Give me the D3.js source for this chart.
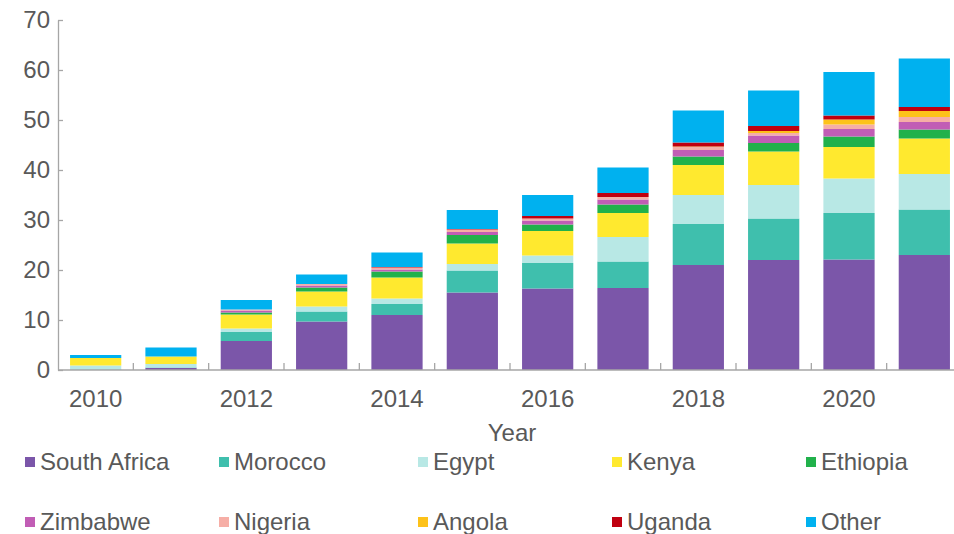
<!DOCTYPE html>
<html>
<head>
<meta charset="utf-8">
<script src="https://cdn.jsdelivr.net/npm/d3@7"></script>
<style>
  html, body { margin: 0; padding: 0; background: #fff; }
  svg { display: block; font-family: "Liberation Sans", Arial, sans-serif; }
</style>
</head>
<body>
<svg id="chart" width="954" height="534"></svg>
<script>
// Installed capacity by country, stacked per year
const years = [2010, 2011, 2012, 2013, 2014, 2015, 2016, 2017, 2018, 2019, 2020, 2021];
const yTicks = [0, 10, 20, 30, 40, 50, 60, 70];
const xLabels = [2010, 2012, 2014, 2016, 2018, 2020];

const southAfrica = [0.0, 0.4, 5.8, 9.7, 11.0, 15.5, 16.3, 16.4, 21.0, 22.0, 22.1, 23.0];
const morocco     = [0.1, 0.1, 1.8, 2.0, 2.2, 4.4, 5.1, 5.3, 8.2, 8.3, 9.3, 9.1];
const egypt       = [0.8, 0.7, 0.7, 1.0, 1.1, 1.3, 1.5, 4.9, 5.8, 6.7, 6.9, 7.1];
const kenya       = [1.5, 1.5, 2.8, 3.0, 4.2, 4.1, 4.9, 4.8, 6.0, 6.7, 6.3, 7.1];
const ethiopia    = [0.0, 0.0, 0.4, 0.8, 1.2, 1.7, 1.3, 1.7, 1.7, 1.7, 2.1, 1.8];
const zimbabwe    = [0.0, 0.0, 0.4, 0.4, 0.4, 0.6, 0.8, 1.0, 1.3, 1.5, 1.5, 1.5];
const nigeria     = [0.0, 0.0, 0.2, 0.3, 0.4, 0.5, 0.4, 0.5, 0.6, 0.5, 0.9, 1.0];
const angola      = [0.0, 0.0, 0.0, 0.0, 0.0, 0.0, 0.0, 0.0, 0.1, 0.4, 1.0, 1.2];
const uganda      = [0.0, 0.0, 0.0, 0.0, 0.1, 0.1, 0.5, 0.8, 0.8, 1.0, 0.8, 0.8];
const other       = [0.6, 1.8, 1.9, 1.9, 2.9, 3.8, 4.2, 5.1, 6.4, 7.1, 8.7, 9.7];

const seriesNames = ["South Africa", "Morocco", "Egypt", "Kenya", "Ethiopia",
                     "Zimbabwe", "Nigeria", "Angola", "Uganda", "Other"];
const seriesValues = [southAfrica, morocco, egypt, kenya, ethiopia,
                      zimbabwe, nigeria, angola, uganda, other];
const seriesColors = ["#7b56a9", "#3fbfad", "#b8e8e5", "#ffe92f", "#21b14b",
                      "#c15db5", "#f6aea6", "#fdc21a", "#c00010", "#00b1ef"];

// Build row table for d3.stack
const rows = years.map((yr, i) => {
  const r = { year: yr };
  seriesNames.forEach((n, k) => { r[n] = seriesValues[k][i]; });
  return r;
});

const svg = d3.select("#chart");
const textColor = "#595959";
const axisColor = "#a6a6a6";
const fontSize = 24;

const x = d3.scaleBand()
  .domain(years)
  .range([58, 962])
  .paddingInner(0.32)
  .paddingOuter(0.16);

const y = d3.scaleLinear().domain([0, 70]).range([370, 20]);

const color = d3.scaleOrdinal().domain(seriesNames).range(seriesColors);

const stacked = d3.stack().keys(seriesNames)(rows);

// Bars
svg.append("g")
  .selectAll("g")
  .data(stacked)
  .join("g")
  .attr("fill", d => color(d.key))
  .selectAll("rect")
  .data(d => d)
  .join("rect")
  .attr("x", d => x(d.data.year))
  .attr("width", x.bandwidth())
  .attr("y", d => y(d[1]))
  .attr("height", d => Math.max(0, y(d[0]) - y(d[1])));

// Y axis
const yAxis = svg.append("g").attr("transform", "translate(58,0)")
  .call(d3.axisLeft(y).tickValues(yTicks).tickSize(-5).tickPadding(8).tickSizeOuter(0));
yAxis.select(".domain").attr("stroke", axisColor).attr("stroke-width", 1.3);
yAxis.selectAll(".tick line").attr("stroke", axisColor).attr("stroke-width", 1.3);
yAxis.selectAll(".tick text")
  .attr("fill", textColor)
  .style("font-size", fontSize + "px")
  .style("font-family", "'Liberation Sans', Arial, sans-serif");

// X axis baseline with category separator ticks
const xg = svg.append("g");
xg.append("line")
  .attr("x1", 58).attr("x2", 954)
  .attr("y1", y(0)).attr("y2", y(0))
  .attr("stroke", axisColor).attr("stroke-width", 1.3);
xg.selectAll("line.sep")
  .data(d3.range(1, years.length + 1))
  .join("line")
  .attr("class", "sep")
  .attr("x1", i => 58 + i * x.step())
  .attr("x2", i => 58 + i * x.step())
  .attr("y1", y(0))
  .attr("y2", y(0) - 7)
  .attr("stroke", axisColor).attr("stroke-width", 1.3);
xg.selectAll("text")
  .data(xLabels)
  .join("text")
  .attr("x", d => x(d) + x.bandwidth() / 2)
  .attr("y", 407)
  .attr("text-anchor", "middle")
  .attr("fill", textColor)
  .style("font-size", fontSize + "px")
  .text(d => d);

// Axis title
svg.append("text")
  .attr("x", 512)
  .attr("y", 441)
  .attr("text-anchor", "middle")
  .attr("fill", textColor)
  .style("font-size", fontSize + "px")
  .text("Year");

// Legend: two rows of five
const legendX = [25, 219, 418, 612, 806];
const legendY = [462, 522];
const legend = svg.append("g")
  .selectAll("g")
  .data(seriesNames)
  .join("g")
  .attr("transform", (d, i) => `translate(${legendX[i % 5]},${legendY[Math.floor(i / 5)]})`);
legend.append("rect")
  .attr("x", 0).attr("y", -5)
  .attr("width", 10).attr("height", 10)
  .attr("fill", d => color(d));
legend.append("text")
  .attr("x", 15)
  .attr("y", 8)
  .attr("fill", textColor)
  .style("font-size", fontSize + "px")
  .text(d => d);
</script>
</body>
</html>
